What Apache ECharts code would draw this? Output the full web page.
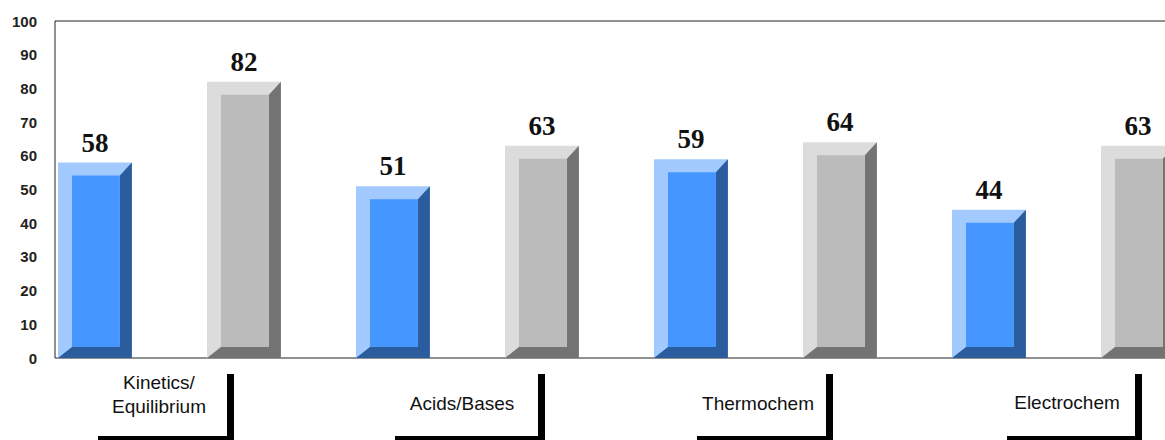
<!DOCTYPE html>
<html>
<head>
<meta charset="utf-8">
<script src="https://cdn.jsdelivr.net/npm/echarts@6/dist/echarts.min.js"></script>
<style>
html,body{margin:0;padding:0;background:#fff;}
#chart{width:1165px;height:440px;}
</style>
</head>
<body>
<div id="chart"></div>
<script>
// ---- data ----
const categories = ['Kinetics/\nEquilibrium', 'Acids/Bases', 'Thermochem', 'Electrochem'];
const seriesA = [58, 51, 59, 44];   // blue bars
const seriesB = [82, 63, 64, 63];   // gray bars
const yMin = 0, yMax = 100, yStep = 10;

// ---- layout / style (not data) ----
const blueColors = ['#a3caff', '#4596ff', '#2a5c9e'];
const grayColors = ['#dcdcdc', '#bbbbbb', '#737373'];
const labelCenters = [159, 462, 758, 1067];
const labelMidY = [394, 403, 403, 402];
const brackets = [[98, 234], [395, 545], [697, 833], [1007, 1142]];

function bevelBar(colors, offsetFrac) {
  return function (params, api) {
    const cat = api.value(0), val = api.value(1);
    const base = api.coord([cat, 0]);
    const topPt = api.coord([cat, val]);
    const bw = api.size([1, 0])[0];
    const bandStart = base[0] - bw / 2;
    const w = bw * 0.248;
    const x0 = bandStart + bw * offsetFrac, x1 = x0 + w;
    const yt = topPt[1], yb = base[1];
    const bl = 14, bt = 13, br = 12, bb = 11;
    return {
      type: 'group',
      children: [
        { type: 'rect', shape: { x: x0, y: yt, width: w, height: yb - yt }, style: { fill: colors[0] } },
        { type: 'polygon', shape: { points: [[x1, yt], [x1, yb], [x0, yb], [x0 + bl, yb - bb], [x1 - br, yb - bb], [x1 - br, yt + bt]] }, style: { fill: colors[2] } },
        { type: 'rect', shape: { x: x0 + bl, y: yt + bt, width: w - bl - br, height: (yb - bb) - (yt + bt) }, style: { fill: colors[1] } },
        { type: 'text', style: { text: String(val), x: (x0 + x1) / 2, y: yt - 20, align: 'center', verticalAlign: 'middle', font: 'bold 27px "Liberation Serif"', fill: '#111' } }
      ]
    };
  };
}

const graphics = [];
categories.forEach(function (c, i) {
  const b = brackets[i];
  graphics.push({ type: 'rect', left: b[1] - 7, top: 374, shape: { x: 0, y: 0, width: 7, height: 70 }, style: { fill: '#000' } });
  graphics.push({ type: 'rect', left: b[0], top: 436, shape: { x: 0, y: 0, width: b[1] - b[0], height: 8 }, style: { fill: '#000' } });
  graphics.push({ type: 'text', x: labelCenters[i], y: labelMidY[i], style: { text: c, align: 'center', verticalAlign: 'middle', font: '19px "Liberation Sans"', lineHeight: 24, fill: '#111' } });
});

const chart = echarts.init(document.getElementById('chart'), null, { renderer: 'svg' });
chart.setOption({
  animation: false,
  backgroundColor: '#fff',
  grid: { left: 55, top: 21, width: 1192, height: 337, outerBoundsMode: 'none', containLabel: false, show: true, borderColor: '#222', borderWidth: 1, backgroundColor: 'transparent' },
  xAxis: {
    type: 'category', data: categories, boundaryGap: true,
    axisLine: { show: false }, axisTick: { show: false }, axisLabel: { show: false }, splitLine: { show: false }
  },
  yAxis: {
    type: 'value', min: yMin, max: yMax, interval: yStep,
    axisLine: { show: false }, axisTick: { show: false }, splitLine: { show: false },
    axisLabel: { margin: 18, color: '#222', fontFamily: 'Liberation Sans', fontWeight: 'bold', fontSize: 15 }
  },
  series: [
    { type: 'custom', name: 'A', renderItem: bevelBar(blueColors, 0.01), data: seriesA.map(function (v, i) { return [i, v]; }), clip: false },
    { type: 'custom', name: 'B', renderItem: bevelBar(grayColors, 0.51), data: seriesB.map(function (v, i) { return [i, v]; }), clip: false }
  ],
  graphic: graphics
});
</script>
</body>
</html>
